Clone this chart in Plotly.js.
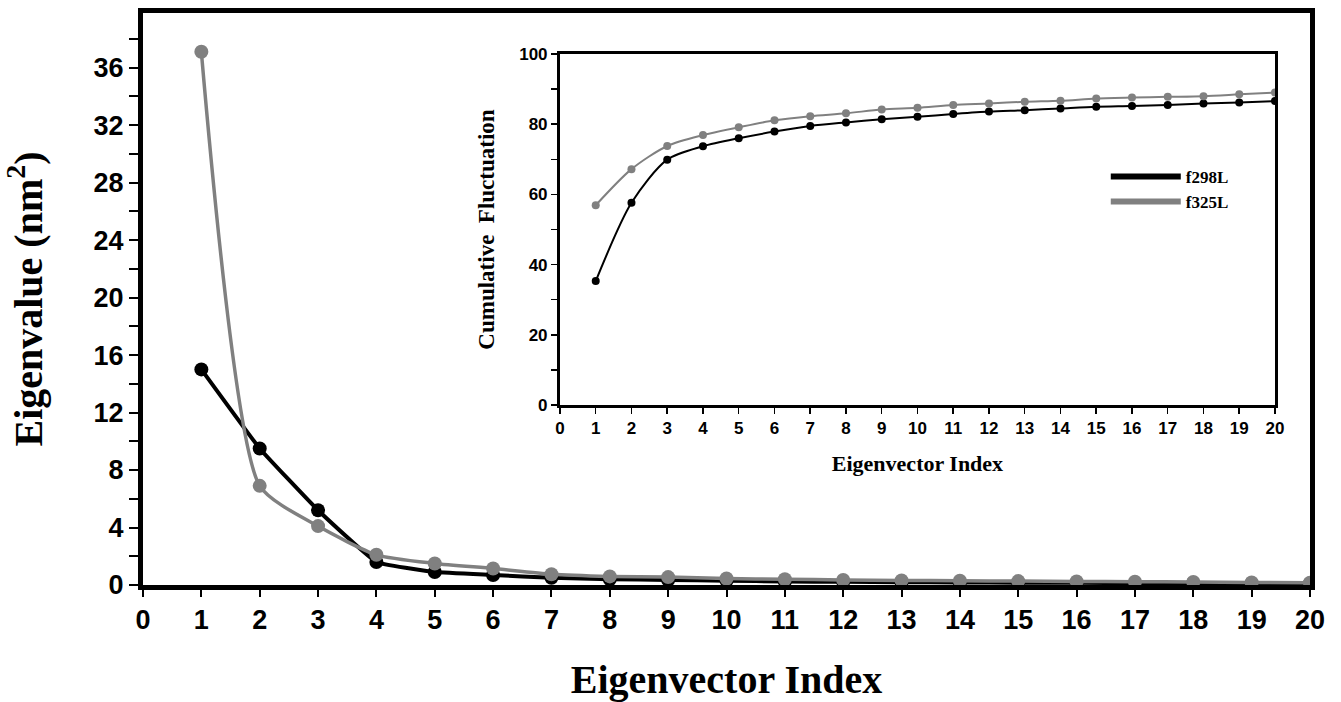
<!DOCTYPE html>
<html><head><meta charset="utf-8">
<script src="https://cdn.plot.ly/plotly-3.0.1.min.js"></script>
<style>html,body{margin:0;padding:0;background:#fff}#chart{width:1341px;height:702px}</style>
</head><body><div id="chart"></div><script>
const eigenIndex = [1,2,3,4,5,6,7,8,9,10,11,12,13,14,15,16,17,18,19,20];
const eigF298L = [15.0, 9.5, 5.2, 1.6, 0.9, 0.7, 0.5, 0.4, 0.35, 0.3, 0.25, 0.22, 0.2, 0.18, 0.16, 0.15, 0.13, 0.12, 0.11, 0.1];
const eigF325L = [37.1, 6.9, 4.1, 2.1, 1.5, 1.15, 0.75, 0.6, 0.55, 0.45, 0.4, 0.35, 0.32, 0.3, 0.27, 0.25, 0.23, 0.21, 0.18, 0.16];
const cumF298L = [35.3, 57.6, 69.9, 73.7, 76.0, 77.9, 79.5, 80.5, 81.4, 82.1, 82.9, 83.6, 84.0, 84.5, 85.0, 85.2, 85.5, 85.9, 86.2, 86.6];
const cumF325L = [56.9, 67.2, 73.8, 76.9, 79.1, 81.1, 82.3, 83.1, 84.2, 84.7, 85.5, 85.9, 86.4, 86.7, 87.3, 87.6, 87.8, 88.0, 88.5, 89.0];
const seriesNames = ['f298L', 'f325L'];
const seriesColors = ['#000000', '#808080'];

const sansB = {family: 'Liberation Sans Narrow, Arial Narrow, Liberation Sans, sans-serif', weight: 'bold', color: '#000'};
const serifB = {family: 'Liberation Serif, Times New Roman, serif', weight: 'bold', color: '#000'};

const traces = [
  {x: eigenIndex, y: eigF298L, xaxis: 'x', yaxis: 'y', mode: 'lines+markers', showlegend: false,
   line: {color: seriesColors[0], width: 4, shape: 'spline', smoothing: 0.3}, marker: {color: seriesColors[0], size: 14}},
  {x: eigenIndex, y: eigF325L, xaxis: 'x', yaxis: 'y', mode: 'lines+markers', showlegend: false,
   line: {color: seriesColors[1], width: 3.5, shape: 'spline', smoothing: 0.6}, marker: {color: seriesColors[1], size: 14}},
  {x: eigenIndex, y: cumF298L, xaxis: 'x2', yaxis: 'y2', mode: 'lines+markers', showlegend: false,
   line: {color: seriesColors[0], width: 2, shape: 'spline', smoothing: 0.8}, marker: {color: seriesColors[0], size: 8}},
  {x: eigenIndex, y: cumF325L, xaxis: 'x2', yaxis: 'y2', mode: 'lines+markers', showlegend: false,
   line: {color: seriesColors[1], width: 2, shape: 'spline', smoothing: 0.8}, marker: {color: seriesColors[1], size: 8}},
  {x: [null], y: [null], xaxis: 'x2', yaxis: 'y2', mode: 'lines', name: seriesNames[0], line: {color: seriesColors[0], width: 6}},
  {x: [null], y: [null], xaxis: 'x2', yaxis: 'y2', mode: 'lines', name: seriesNames[1], line: {color: seriesColors[1], width: 6}}
];

const layout = {
  width: 1341, height: 702,
  margin: {l: 143, r: 31, t: 13, b: 117},
  paper_bgcolor: '#fff', plot_bgcolor: '#fff',
  showlegend: true,
  legend: {x: 0.825, y: 0.745, xanchor: 'left', yanchor: 'top', bgcolor: 'rgba(0,0,0,0)', itemwidth: 70,
    font: Object.assign({size: 17}, serifB), tracegroupgap: 0},
  xaxis: {domain: [0, 1], range: [0, 20], dtick: 1, tick0: 0, showgrid: false, zeroline: false,
    showline: true, linecolor: '#000', linewidth: 5, mirror: true,
    ticks: 'outside', ticklen: 7, tickwidth: 2, tickcolor: '#000',
    tickfont: Object.assign({size: 27}, sansB),
    title: {text: 'Eigenvector Index', font: Object.assign({size: 40}, serifB), standoff: 37}},
  yaxis: {domain: [0, 1], range: [0, 39.8], dtick: 4, tick0: 0, showgrid: false, zeroline: false,
    showline: true, linecolor: '#000', linewidth: 5, mirror: true,
    ticks: 'outside', ticklen: 9, tickwidth: 2, tickcolor: '#000',
    minor: {dtick: 2, ticks: 'outside', ticklen: 9, tickwidth: 2, tickcolor: '#000', showgrid: false},
    tickfont: Object.assign({size: 27}, sansB),
    title: {text: 'Eigenvalue (nm<sup>2</sup>)', font: Object.assign({size: 40}, serifB), standoff: 40}},
  xaxis2: {domain: [0.3573, 0.970], anchor: 'y2', range: [0, 20], dtick: 1, tick0: 0, showgrid: false, zeroline: false,
    showline: true, linecolor: '#000', linewidth: 3, mirror: true,
    ticks: 'outside', ticklen: 6, tickwidth: 1.5, tickcolor: '#000',
    tickfont: Object.assign({size: 17}, sansB),
    title: {text: 'Eigenvector Index', font: Object.assign({size: 22}, serifB), standoff: 19}},
  yaxis2: {domain: [0.3147, 0.9283], anchor: 'x2', range: [0, 100], dtick: 20, tick0: 0, showgrid: false, zeroline: false,
    showline: true, linecolor: '#000', linewidth: 3, mirror: true,
    ticks: 'outside', ticklen: 6, tickwidth: 1.5, tickcolor: '#000',
    minor: {dtick: 10, ticks: 'outside', ticklen: 6, tickwidth: 1.5, tickcolor: '#000', showgrid: false},
    tickfont: Object.assign({size: 17}, sansB),
    title: {text: 'Cumulative  Fluctuation', font: Object.assign({size: 23}, serifB), standoff: 19}}
};

Plotly.newPlot('chart', traces, layout, {displayModeBar: false, staticPlot: true});
</script></body></html>
